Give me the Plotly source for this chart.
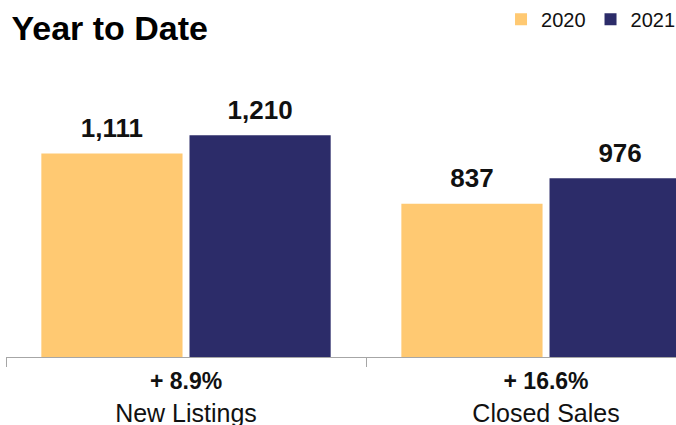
import plotly.graph_objects as go

categories = ["New Listings", "Closed Sales"]
values_2020 = [1111, 837]
values_2021 = [1210, 976]
series_names = ["2020", "2021"]
colors = ["#FFC972", "#2C2C69"]

pct = [f"+ {(b / a - 1) * 100:.1f}%" for a, b in zip(values_2020, values_2021)]
ticktext = [f"<span style='font-size:23px'><b>{p}</b></span><br>{c}" for p, c in zip(pct, categories)]

fig = go.Figure()
for name, vals, col in zip(series_names, [values_2020, values_2021], colors):
    fig.add_trace(go.Bar(
        x=categories, y=vals, name=name, marker_color=col, marker_line_width=0,
        offsetgroup=name, hoverinfo="skip",
    ))
for name, vals in zip(series_names, [values_2020, values_2021]):
    fig.add_trace(go.Scatter(
        x=categories, y=vals, mode="markers+text", offsetgroup=name,
        text=[f"{v:,}" for v in vals], textposition="top center",
        textfont=dict(size=26, color="#111111", family="Liberation Sans, Arial"),
        texttemplate="<b>%{text}</b>",
        marker=dict(size=14, opacity=0), showlegend=False, hoverinfo="skip",
        cliponaxis=False,
    ))

fig.update_layout(
    width=676, height=425,
    margin=dict(l=6, r=0, t=60, b=68, autoexpand=False),
    paper_bgcolor="white", plot_bgcolor="white",
    barmode="group", scattermode="group", bargap=0.177, bargroupgap=0.047,
    font=dict(family="Liberation Sans, Arial", color="#111111"),
    title=dict(text="<b>Year to Date</b>", x=0.017, xanchor="left", y=0.935, yanchor="middle",
               font=dict(size=34, family="Liberation Sans, Arial", color="#000000")),
    legend=dict(orientation="h", x=1.006, xanchor="right", y=0.955, yref="container", yanchor="middle",
                font=dict(size=20), itemwidth=30, traceorder="normal", tracegroupgap=0,
                bgcolor="rgba(0,0,0,0)"),
    showlegend=True,
)
fig.update_xaxes(
    range=[-0.5, 1.361], showline=True, linecolor="#a6a6a6", linewidth=1,
    ticks="outside", tickson="boundaries", ticklen=9, tickcolor="#a6a6a6",
    tickvals=categories, ticktext=ticktext, tickfont=dict(size=25, color="#111111"),
    ticklabelstandoff=1, showgrid=False, zeroline=False, automargin=False,
)
fig.update_yaxes(range=[0, 1621], visible=False, showgrid=False, zeroline=False, automargin=False)

fig.write_html("out.html", config={"displayModeBar": False},
               post_script="document.body.style.margin='0';document.body.style.overflow='hidden';")
